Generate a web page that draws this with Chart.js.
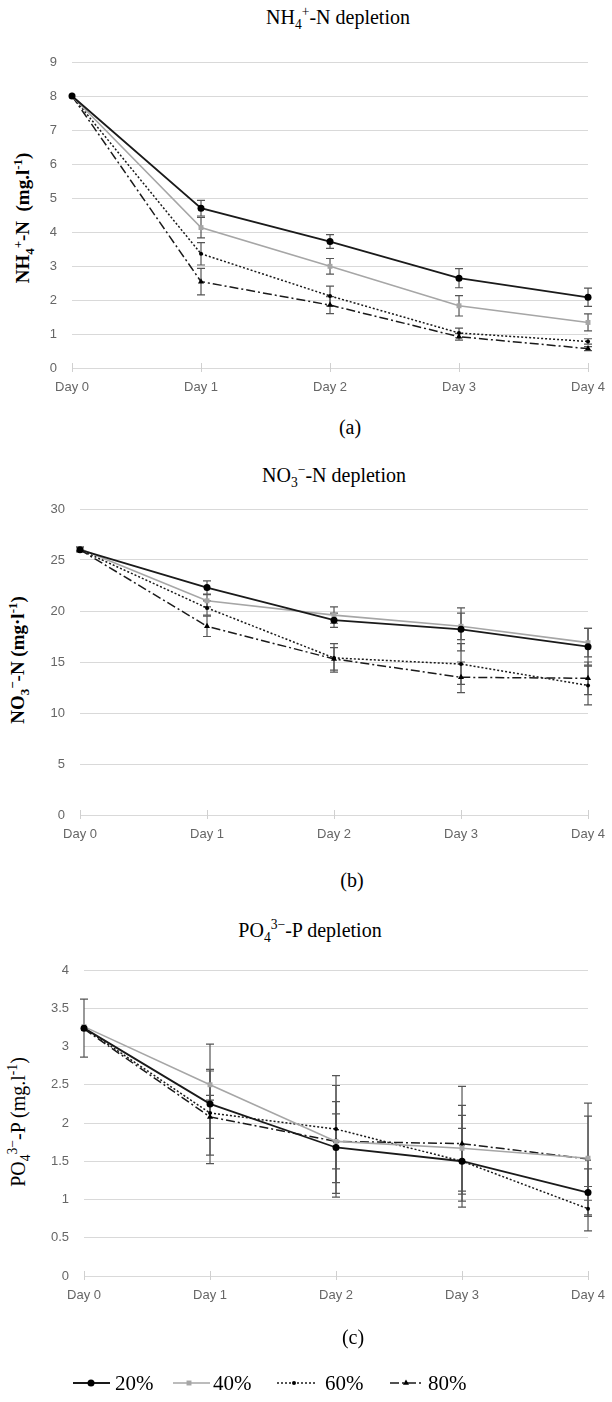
<!DOCTYPE html>
<html>
<head>
<meta charset="utf-8">
<script src="https://cdn.jsdelivr.net/npm/chart.js@4.4.1/dist/chart.umd.min.js"></script>
<style>
body { margin: 0; background: #fff; }
#page { position: relative; width: 612px; height: 1402px; font-family: 'Liberation Serif', 'Times New Roman', serif; color: #000; overflow: hidden; }
canvas { position: absolute; left: 0; }
.lbl { position: absolute; transform: translate(-50%, -50%); white-space: nowrap; font-size: 20px; }
.ytitle { position: absolute; transform: translate(-50%, -50%) rotate(-90deg); white-space: nowrap; font-size: 19px; }
sub, sup { font-size: 0.68em; line-height: 0; }
</style>
</head>
<body>
<div id="page">
  <div class="lbl" style="left:338px;top:17px">NH<sub>4</sub><sup>+</sup>-N depletion</div>
  <div class="ytitle" style="left:23px;top:218px;font-weight:bold">NH<sub>4</sub><sup>+</sup>-N&nbsp; (mg.l<sup>-1</sup>)</div>
  <canvas id="chartA" width="612" height="410" style="top:0px"></canvas>
  <div class="lbl" style="left:350px;top:427px">(a)</div>

  <div class="lbl" style="left:334px;top:475px">NO<sub>3</sub><sup>−</sup>-N depletion</div>
  <div class="ytitle" style="left:18px;top:660px;font-weight:bold">NO<sub>3</sub><sup>−</sup>-N (mg·l<sup>-1</sup>)</div>
  <canvas id="chartB" width="612" height="420" style="top:440px"></canvas>
  <div class="lbl" style="left:352px;top:880px">(b)</div>

  <div class="lbl" style="left:310px;top:930px">PO<sub>4</sub><sup>3−</sup>-P depletion</div>
  <div class="ytitle" style="left:18px;top:1122px;font-size:20px">PO<sub>4</sub><sup>3−</sup>-P (mg.l<sup>-1</sup>)</div>
  <canvas id="chartC" width="612" height="502" style="top:900px"></canvas>
  <div class="lbl" style="left:353px;top:1337px">(c)</div>
</div>
<script>
// categories
const days = ['Day 0', 'Day 1', 'Day 2', 'Day 3', 'Day 4'];
const seriesLabels = ['20%', '40%', '60%', '80%'];

// (a) NH4+-N
const nh4_20 = [8.0, 4.70, 3.72, 2.64, 2.08];
const nh4_40 = [8.0, 4.13, 2.99, 1.83, 1.34];
const nh4_60 = [8.0, 3.36, 2.12, 1.03, 0.78];
const nh4_80 = [8.0, 2.54, 1.85, 0.92, 0.57];
const nh4_20_err = [0, 0.23, 0.20, 0.28, 0.27];
const nh4_40_err = [0, 0.30, 0.23, 0.30, 0.25];
const nh4_60_err = [0, 0.33, 0.29, 0.14, 0.08];
const nh4_80_err = [0, 0.39, 0.25, 0.10, 0.06];

// (b) NO3--N
const no3_20 = [26.0, 22.3, 19.1, 18.2, 16.5];
const no3_40 = [26.1, 21.0, 19.6, 18.5, 16.9];
const no3_60 = [26.0, 20.3, 15.4, 14.8, 12.7];
const no3_80 = [26.0, 18.5, 15.3, 13.5, 13.4];
const no3_20_err = [0.2, 0.65, 0.7, 2.1, 1.8];
const no3_40_err = [0.2, 0.6, 0.8, 1.3, 1.4];
const no3_60_err = [0, 0.7, 1.4, 2.0, 1.9];
const no3_80_err = [0, 1.0, 1.1, 1.5, 1.6];

// (c) PO4 3--P
const po4_20 = [3.24, 2.25, 1.68, 1.50, 1.09];
const po4_40 = [3.26, 2.50, 1.76, 1.67, 1.54];
const po4_60 = [3.24, 2.13, 1.92, 1.50, 0.88];
const po4_80 = [3.23, 2.08, 1.76, 1.73, 1.53];
const po4_20_err = [0.38, 0.78, 0.60, 0.60, 0.31];
const po4_40_err = [0, 0.20, 0.73, 0.56, 0.55];
const po4_60_err = [0, 0.55, 0.70, 0.43, 0.29];
const po4_80_err = [0, 0.28, 0.36, 0.75, 0.73];

// line look per series
const looks = [
    { color: '#1a1a1a', width: 1.8, dash: [], point: 'circle', radius: 3.5, pointColor: '#000' },
    { color: '#a6a6a6', width: 1.6, dash: [], point: 'rect', radius: 3.5, pointColor: '#a6a6a6' },
    { color: '#1a1a1a', width: 1.5, dash: [2, 2], point: 'circle', radius: 2, pointColor: '#000' },
    { color: '#1a1a1a', width: 1.5, dash: [9, 3, 2, 3], point: 'triangle', radius: 3.5, pointColor: '#000' }
];

function makeSets(means, errs) {
    return means.map((m, i) => ({
        label: seriesLabels[i],
        data: m,
        errorBars: errs[i],
        borderColor: looks[i].color,
        borderWidth: looks[i].width,
        borderDash: looks[i].dash,
        pointStyle: looks[i].point,
        pointRadius: looks[i].radius,
        pointBackgroundColor: looks[i].pointColor,
        pointBorderColor: looks[i].pointColor,
        pointBorderWidth: 0,
        tension: 0,
        fill: false
    }));
}

// error bars drawn from each dataset's errorBars array
const errorBarPlugin = {
    id: 'errorBars',
    beforeDatasetsDraw(chart) {
        const ctx = chart.ctx;
        const yScale = chart.scales.y;
        ctx.save();
        ctx.strokeStyle = '#555';
        ctx.lineWidth = 1.2;
        chart.data.datasets.forEach((ds, di) => {
            const meta = chart.getDatasetMeta(di);
            meta.data.forEach((pt, i) => {
                const e = ds.errorBars[i];
                if (!e) return;
                const yTop = yScale.getPixelForValue(ds.data[i] + e);
                const yBot = yScale.getPixelForValue(ds.data[i] - e);
                const x = pt.x;
                ctx.beginPath();
                ctx.moveTo(x, yTop); ctx.lineTo(x, yBot);
                ctx.moveTo(x - 4, yTop); ctx.lineTo(x + 4, yTop);
                ctx.moveTo(x - 4, yBot); ctx.lineTo(x + 4, yBot);
                ctx.stroke();
            });
        });
        ctx.restore();
    }
};

// Excel-style tick marks that cross the category axis
const crossTicksPlugin = {
    id: 'crossTicks',
    afterDraw(chart) {
        const ctx = chart.ctx;
        const xs = chart.scales.x;
        const y0 = chart.chartArea.bottom;
        ctx.save();
        ctx.strokeStyle = '#d0d0d0';
        ctx.lineWidth = 1;
        xs.ticks.forEach((t, i) => {
            const x = Math.round(xs.getPixelForTick(i)) + 0.5;
            ctx.beginPath();
            ctx.moveTo(x, y0 - 5);
            ctx.lineTo(x, y0 + 4);
            ctx.stroke();
        });
        ctx.restore();
    }
};

// legend with line samples, drawn under the last panel
const lineLegendPlugin = {
    id: 'lineLegend',
    afterDraw(chart, args, opts) {
        if (!opts.items) return;
        const ctx = chart.ctx;
        ctx.save();
        chart.data.datasets.forEach((ds, i) => {
            const it = opts.items[i];
            ctx.strokeStyle = ds.borderColor;
            ctx.lineWidth = ds.borderWidth;
            ctx.setLineDash(ds.borderDash);
            ctx.beginPath();
            ctx.moveTo(it.x1, opts.y);
            ctx.lineTo(it.x2, opts.y);
            ctx.stroke();
            ctx.setLineDash([]);
            ctx.fillStyle = ds.pointBackgroundColor;
            Chart.helpers.drawPoint(ctx, { pointStyle: ds.pointStyle, radius: ds.pointRadius, rotation: 0, borderWidth: 0 }, it.mx, opts.y);
            ctx.fillStyle = '#000';
            ctx.font = "21px 'Liberation Serif', serif";
            ctx.textBaseline = 'middle';
            ctx.fillText(ds.label, it.tx, opts.y + 1);
        });
        ctx.restore();
    }
};

function panel(id, sets, yMax, yStep, pad, yWidth, legend) {
    new Chart(document.getElementById(id), {
        type: 'line',
        data: { labels: days, datasets: sets },
        plugins: [errorBarPlugin, crossTicksPlugin, lineLegendPlugin],
        options: {
            responsive: false,
            animation: false,
            layout: { padding: pad },
            scales: {
                x: {
                    offset: false,
                    grid: { drawOnChartArea: false, drawTicks: true, tickLength: 5, color: 'rgba(0,0,0,0)' },
                    border: { display: true, color: '#d9d9d9' },
                    ticks: { color: '#666', font: { family: "'Liberation Sans', Arial, sans-serif", size: 13 }, padding: 7, maxRotation: 0, autoSkip: false },
                    afterFit: s => { s.height = 30; }
                },
                y: {
                    min: 0,
                    max: yMax,
                    grid: { color: '#d9d9d9', drawTicks: false },
                    border: { display: false },
                    ticks: {
                        stepSize: yStep,
                        color: '#666',
                        font: { family: "'Liberation Sans', Arial, sans-serif", size: 13 },
                        padding: 15,
                        callback: v => String(v)
                    },
                    afterFit: s => { s.width = yWidth; }
                }
            },
            plugins: {
                legend: { display: false },
                tooltip: { enabled: false },
                lineLegend: legend || {}
            }
        }
    });
}

panel('chartA',
    makeSets([nh4_20, nh4_40, nh4_60, nh4_80], [nh4_20_err, nh4_40_err, nh4_60_err, nh4_80_err]),
    9, 1, { top: 62, right: 20, bottom: 12, left: 0 }, 72);

panel('chartB',
    makeSets([no3_20, no3_40, no3_60, no3_80], [no3_20_err, no3_40_err, no3_60_err, no3_80_err]),
    30, 5, { top: 69, right: 21, bottom: 15, left: 0 }, 80);

panel('chartC',
    makeSets([po4_20, po4_40, po4_60, po4_80], [po4_20_err, po4_40_err, po4_60_err, po4_80_err]),
    4, 0.5, { top: 70, right: 20, bottom: 96, left: 0 }, 84,
    {
        y: 483,
        items: [
            { x1: 73, x2: 110, mx: 91, tx: 115 },
            { x1: 173, x2: 210, mx: 189, tx: 213 },
            { x1: 277, x2: 315, mx: 294, tx: 325 },
            { x1: 390, x2: 422, mx: 406, tx: 428 }
        ]
    });
</script>
</body>
</html>
